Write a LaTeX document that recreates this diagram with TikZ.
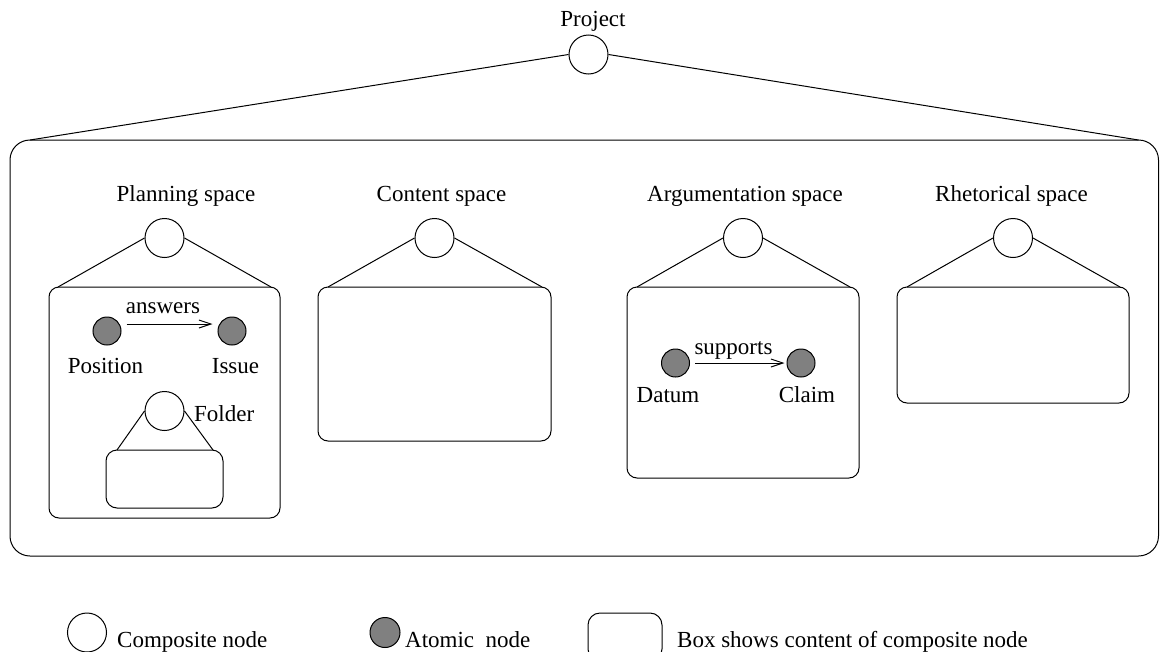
\documentclass[tikz,border=0pt]{standalone}
\usepackage{fontspec}
\setmainfont{Liberation Serif}
\usetikzlibrary{arrows.meta}
\begin{document}
\begin{tikzpicture}[x=1pt,y=-1pt,
  every node/.style={font=\fontsize{23pt}{27pt}\selectfont},
  composite/.style={circle,draw,line width=1pt,minimum size=39pt,inner sep=0pt,fill=white},
  atomic/.style={circle,draw,line width=1pt,fill=black!50,minimum size=28pt,inner sep=0pt},
  contentbox/.style={draw,line width=1pt,rounded corners=10pt,inner sep=0pt,outer sep=0pt},
  txt/.style={anchor=base,inner sep=0pt},
  link/.style={line width=1pt},
  rel/.style={line width=1pt,-{Straight Barb[length=12pt,width=8pt,line width=1pt]}}
]
\useasboundingbox (0,0) rectangle (1160,651);

% project level
\node[txt] (tproj) at (593,26.5) {Project};
\node[composite] (proj) at (588.5,54.5) {};
\node[contentbox,rounded corners=20pt,minimum width=1148.5pt,minimum height=416pt] (big) at (584.25,348) {};
\draw[link] (proj.west) -- ([xshift=20pt]big.north west);
\draw[link] (proj.east) -- ([xshift=-20pt]big.north east);

% planning space
\node[txt] (tplan) at (186,201) {Planning space};
\node[composite] (plan) at (164.5,238) {};
\node[contentbox,minimum width=231pt,minimum height=231pt] (planbox) at (164.5,402.5) {};
\draw[link] (plan.west) -- ([xshift=9pt]planbox.north west);
\draw[link] (plan.east) -- ([xshift=-9pt]planbox.north east);
\node[atomic] (pos) at (107,331) {};
\node[atomic] (iss) at (232,331) {};
\draw[rel] ([xshift=5pt,yshift=7pt]pos.east) -- ([xshift=-5pt,yshift=7pt]iss.west);
\node[txt] (tans) at (163,313) {answers};
\node[txt] (tpos) at (105.5,373.5) {Position};
\node[txt] (tiss) at (235.5,373.5) {Issue};
\node[composite] (fold) at (164.5,411) {};
\node[txt,anchor=base west] (tfold) at (194,421) {Folder};
\node[contentbox,rounded corners=11pt,minimum width=117pt,minimum height=58pt] (foldbox) at (164.5,479) {};
\draw[link] (fold.west) -- ([xshift=11pt]foldbox.north west);
\draw[link] (fold.east) -- ([xshift=-10pt]foldbox.north east);

% content space
\node[txt] (tcont) at (441.5,201) {Content space};
\node[composite] (cont) at (434.5,238) {};
\node[contentbox,minimum width=233pt,minimum height=154pt] (contbox) at (434.5,364) {};
\draw[link] (cont.west) -- ([xshift=10pt]contbox.north west);
\draw[link] (cont.east) -- ([xshift=-9pt]contbox.north east);

% argumentation space
\node[txt] (targ) at (745,201) {Argumentation space};
\node[composite] (arg) at (743,238) {};
\node[contentbox,minimum width=232pt,minimum height=191pt] (argbox) at (743,382.5) {};
\draw[link] (arg.west) -- ([xshift=10pt]argbox.north west);
\draw[link] (arg.east) -- ([xshift=-9pt]argbox.north east);
\node[atomic] (dat) at (675.5,363) {};
\node[atomic] (clm) at (801,363) {};
\draw[rel] ([xshift=5pt]dat.east) -- ([xshift=-2pt]clm.west);
\node[txt] (tsup) at (733.5,354.5) {supports};
\node[txt] (tdat) at (668,402.5) {Datum};
\node[txt] (tclm) at (807,402.5) {Claim};

% rhetorical space
\node[txt] (trhet) at (1011.5,201) {Rhetorical space};
\node[composite] (rhet) at (1013,238) {};
\node[contentbox,minimum width=232pt,minimum height=116pt] (rhetbox) at (1013,345) {};
\draw[link] (rhet.west) -- ([xshift=10pt]rhetbox.north west);
\draw[link] (rhet.east) -- ([xshift=-9pt]rhetbox.north east);

% legend
\node[composite] (lcomp) at (87,632.5) {};
\node[txt,anchor=base west] (tlcomp) at (117,647) {Composite node};
\node[atomic,minimum size=30pt] (latom) at (385,632.5) {};
\node[txt,anchor=base west] (tlatom) at (405,647) {Atomic\ \ node};
\node[contentbox,rounded corners=12pt,minimum width=74pt,minimum height=48pt] (lbox) at (625,637) {};
\node[txt,anchor=base west] (tlbox) at (677,647) {Box shows content of composite node};
\end{tikzpicture}
\end{document}
